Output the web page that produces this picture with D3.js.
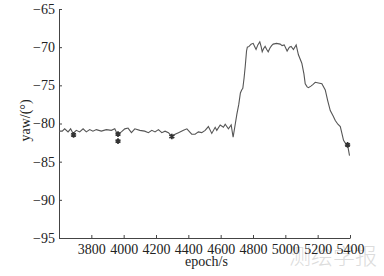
<!DOCTYPE html>
<html>
<head>
<meta charset="utf-8">
<script src="https://cdn.jsdelivr.net/npm/d3@7"></script>
<style>
  body { margin: 0; background: #fff; }
  svg { display: block; }
</style>
</head>
<body>
<div id="chart"></div>
<script>
// dados (epoch em s, yaw em graus)
const epochs = [
  3600, 3620, 3635, 3656, 3672, 3687, 3707, 3728, 3749, 3769,
  3790, 3810, 3831, 3862, 3893, 3924, 3945, 3961, 3986, 4007,
  4027, 4048, 4069, 4100, 4130, 4153, 4174, 4194, 4215, 4236,
  4256, 4277, 4298, 4318, 4339, 4370, 4391, 4421, 4442, 4462,
  4483, 4504, 4524, 4545, 4566, 4576, 4597, 4617, 4628, 4648,
  4665, 4677, 4700, 4712, 4722, 4730, 4737, 4745, 4752, 4760,
  4765, 4776, 4788, 4801, 4810, 4819, 4830, 4842, 4850, 4857,
  4865, 4875, 4885, 4894, 4905, 4915, 4925, 4945, 4968, 4980,
  4993, 5011, 5025, 5036, 5050, 5067, 5081, 5102, 5115, 5123,
  5135, 5143, 5158, 5170, 5185, 5205, 5226, 5247, 5262, 5278,
  5295, 5309, 5325, 5340, 5350, 5360, 5372, 5385, 5397
];
const yaw = [
  -81.0, -81.0, -80.7, -81.1, -80.7, -81.3, -80.9, -81.1, -80.7, -81.1,
  -80.8, -81.0, -80.8, -81.0, -80.8, -80.9, -80.7, -81.4, -81.1, -80.7,
  -80.6, -81.2, -80.7, -80.9, -81.0, -81.2, -80.9, -81.1, -80.8, -81.2,
  -81.0, -81.2, -81.7, -81.4, -81.2, -80.9, -80.7, -81.4, -81.4, -81.1,
  -81.2, -80.9, -80.4, -81.3, -80.5, -80.9, -80.2, -80.5, -80.1, -80.7,
  -80.2, -81.8, -78.8, -77.5, -76.0, -75.6, -75.4, -74.0, -72.5, -70.5,
  -70.0, -69.9, -69.6, -69.5, -69.9, -70.3, -69.7, -69.3, -69.9, -70.6,
  -70.2, -69.9, -70.3, -70.6, -70.1, -69.8, -69.6, -69.5, -69.6, -69.8,
  -69.7, -70.5, -70.0, -69.9, -70.3, -69.7, -71.0, -72.1, -73.5, -74.8,
  -75.2, -75.3, -75.1, -74.9, -74.6, -74.7, -74.8, -75.6, -77.0, -78.3,
  -79.0, -79.6, -80.1, -80.4, -81.3, -82.2, -82.6, -82.8, -84.2
];

// marcadores (*)
const markEpochs = [3690, 3965, 3965, 4298, 5385];
const markYaw = [-81.5, -81.4, -82.3, -81.7, -82.8];

const xTicks = [3800, 4000, 4200, 4400, 4600, 4800, 5000, 5200, 5400];
const yTicks = [-95, -90, -85, -80, -75, -70, -65];

const W = 384, H = 276;
const margin = { top: 9, right: 34, bottom: 38, left: 59 };

const svg = d3.select("#chart").append("svg")
    .attr("width", W)
    .attr("height", H);

const x = d3.scaleLinear().domain([3600, 5400]).range([margin.left, W - margin.right]);
const y = d3.scaleLinear().domain([-95, -65]).range([H - margin.bottom, margin.top]);

const font = "'Liberation Serif', 'DejaVu Serif', serif";

// marca d'água
svg.append("text")
    .attr("x", 333).attr("y", 264)
    .attr("text-anchor", "middle")
    .style("font-family", "'Noto Sans CJK SC', sans-serif")
    .style("font-size", "22px")
    .style("font-weight", "300")
    .attr("fill", "#dcdcdc")
    .text("测绘学报");

// eixos
const gx = svg.append("g")
    .attr("transform", `translate(0,${H - margin.bottom})`)
    .call(d3.axisBottom(x).tickValues(xTicks).tickSizeInner(-3).tickSizeOuter(0).tickPadding(6.5).tickFormat(d3.format("d")));

const gy = svg.append("g")
    .attr("transform", `translate(${margin.left},0)`)
    .call(d3.axisLeft(y).tickValues(yTicks).tickSizeInner(-3).tickSizeOuter(0).tickPadding(4));

[gx, gy].forEach(g => {
    g.select(".domain").attr("stroke", "#444");
    g.selectAll(".tick line").attr("stroke", "#444");
    g.selectAll(".tick text")
        .attr("fill", "#222")
        .style("font-family", font)
        .style("font-size", "14px");
});

// rótulos
svg.append("text")
    .attr("x", (margin.left + W - margin.right) / 2 + 2)
    .attr("y", 266)
    .attr("text-anchor", "middle")
    .style("font-family", font)
    .style("font-size", "14px")
    .attr("fill", "#222")
    .text("epoch/s");

svg.append("text")
    .attr("transform", `translate(30,${(margin.top + H - margin.bottom) / 2 - 3}) rotate(-90)`)
    .attr("text-anchor", "middle")
    .style("font-family", font)
    .style("font-size", "14px")
    .attr("fill", "#222")
    .text("yaw/(°)");

// curva
const pts = epochs.map((e, i) => [e, yaw[i]]);
const line = d3.line().x(d => x(d[0])).y(d => y(d[1]));

svg.append("path")
    .datum(pts)
    .attr("d", line)
    .attr("fill", "none")
    .attr("stroke", "#555")
    .attr("stroke-width", 1.1);

// marcadores
const sym = d3.symbol().type(d3.symbolAsterisk).size(22);
markEpochs.forEach((e, i) => {
    svg.append("path")
        .attr("d", sym())
        .attr("transform", `translate(${x(e)},${y(markYaw[i])})`)
        .attr("fill", "none")
        .attr("stroke", "#333")
        .attr("stroke-width", 1.7);
});
</script>
</body>
</html>
